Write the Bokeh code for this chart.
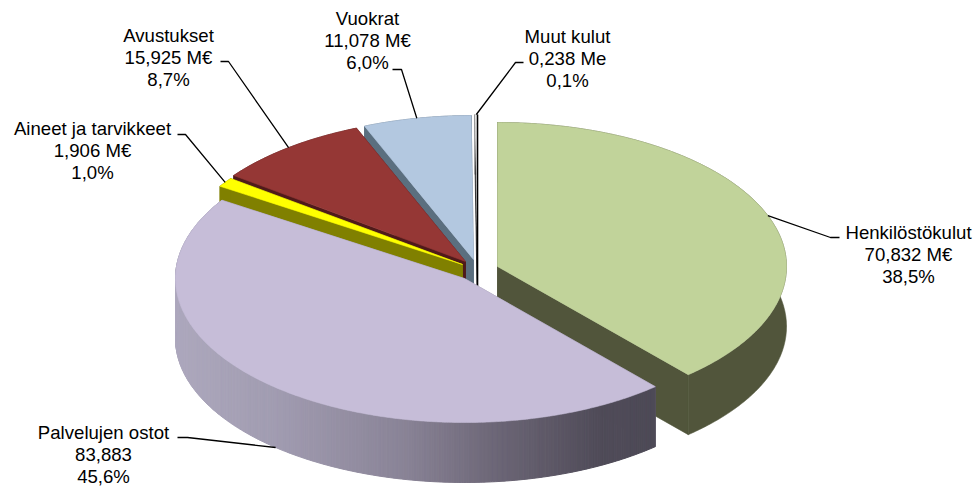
import math
from bokeh.plotting import figure
from bokeh.models import Range1d, ColumnDataSource
from bokeh.core.properties import value
from bokeh.embed import file_html
from bokeh.resources import INLINE

# --- data (clockwise from 12 o'clock) ---
categories = ["Henkilöstökulut", "Palvelujen ostot", "Aineet ja tarvikkeet", "Avustukset", "Vuokrat", "Muut kulut"]
amounts = [70.832, 83.883, 1.906, 15.925, 11.078, 0.238]
amount_labels = ["70,832 M€", "83,883", "1,906 M€", "15,925 M€", "11,078 M€", "0,238 Me"]
pct_labels = ["38,5%", "45,6%", "1,0%", "8,7%", "6,0%", "0,1%"]

# --- style / layout ---
top_colors = ["#c1d39a", "#c6bdd8", "#ffff00", "#953735", "#b3c8e0", "#ffffff"]
wall_colors = ["#51553b", "#8d8799", "#808000", "#4f1a1a", "#5b6f7f", "#000000"]
centers = [(497, 266), (464, 278), (462, 264), (465, 261), (473, 259), (477, 258)]
draw_order = [5, 4, 3, 2, 0, 1]
RX, RY, DEPTH = 289, 144, 60
label_pos = [(908, 232), (103, 432), (92, 128), (168, 35), (367, 18), (567, 36)]
LINE_H = 22.0
elbows = [
    [(839, 237), (830, 237)],
    [(177, 437), (187, 437)],
    [(177, 134), (185, 134)],
    [(220, 61), (228, 61)],
    [(392, 69), (401, 69)],
    [(523, 62), (515, 62)],
]
leader_depth = [0, DEPTH, 0, 0, 0, 0]
grad_stops = [(175, (173, 168, 189)), (280, (160, 155, 176)), (400, (138, 132, 151)),
              (500, (107, 101, 117)), (600, (79, 75, 88)), (656, (78, 74, 87))]

W, H = 980, 487
p = figure(width=W, height=H, output_backend="svg", toolbar_location=None,
           x_range=Range1d(0, W), y_range=Range1d(H, 0), min_border=0)
p.axis.visible = False
p.grid.visible = False
p.outline_line_color = None
p.background_fill_color = "#ffffff"
p.border_fill_color = "#ffffff"

total = sum(amounts)
starts, ends, acc = [], [], 0.0
for a in amounts:
    starts.append(acc / total * 360)
    acc += a
    ends.append(acc / total * 360)


def pt(c, deg, dy=0):
    t = math.radians(deg)
    return c[0] + RX * math.sin(t), c[1] - RY * math.cos(t) + dy


def arc(c, a0, a1, dy=0, step=0.5):
    n = max(2, int(abs(a1 - a0) / step) + 2)
    return [pt(c, a0 + (a1 - a0) * i / (n - 1), dy) for i in range(n)]


def grad(x):
    for (x0, c0), (x1, c1) in zip(grad_stops, grad_stops[1:]):
        if x <= x1:
            f = max(0.0, (x - x0) / (x1 - x0))
            return "#%02x%02x%02x" % tuple(round(a + (b - a) * f) for a, b in zip(c0, c1))
    return "#%02x%02x%02x" % grad_stops[-1][1]


xs, ys, fills, lines, widths = [], [], [], [], []


def add(poly, fill, line=None, w=0.6):
    xs.append([q[0] for q in poly])
    ys.append([q[1] for q in poly])
    fills.append(fill)
    lines.append(line or fill)
    widths.append(w)


for i in draw_order:
    c, a0, a1 = centers[i], starts[i], ends[i]
    wall = wall_colors[i]
    c2 = (c[0], c[1] + DEPTH)
    # radial walls
    for ang in (a0, a1):
        e = pt(c, ang)
        add([c, e, (e[0], e[1] + DEPTH), c2], wall)
    # outer wall
    top = arc(c, a0, a1)
    bot = arc(c, a0, a1, DEPTH)
    if i == 1:
        for k in range(len(top) - 1):
            add([top[k], top[k + 1], bot[k + 1], bot[k]], grad((top[k][0] + top[k + 1][0]) / 2), w=1)
    else:
        add(top + bot[::-1], wall)
    # top face
    add([c] + top, top_colors[i])
    if i == 5:
        # the hairline slice shows only its closing edge, in black
        e = pt(c, a1)
        add([c, e, (e[0], e[1] + DEPTH), c2], wall, wall, 1.6)

p.patches("xs", "ys", fill_color="fc", line_color="lc", line_width="lw",
          source=ColumnDataSource(dict(xs=xs, ys=ys, fc=fills, lc=lines, lw=widths)))

# leaders
for i in range(len(categories)):
    mid = (starts[i] + ends[i]) / 2
    e = pt(centers[i], mid, leader_depth[i])
    path = elbows[i] + [e]
    p.line([q[0] for q in path], [q[1] for q in path], line_color="#000000", line_width=1.3)

# labels
tx, ty, tt = [], [], []
for i in range(len(categories)):
    for j, s in enumerate((categories[i], amount_labels[i], pct_labels[i])):
        tx.append(label_pos[i][0])
        ty.append(label_pos[i][1] + j * LINE_H)
        tt.append(s)
p.text(tx, ty, text=tt, text_font=value("Liberation Sans"), text_font_size="18.6px",
       text_color="#000000", text_align="center", text_baseline="middle")

open("out.html", "w").write(file_html(p, INLINE))
